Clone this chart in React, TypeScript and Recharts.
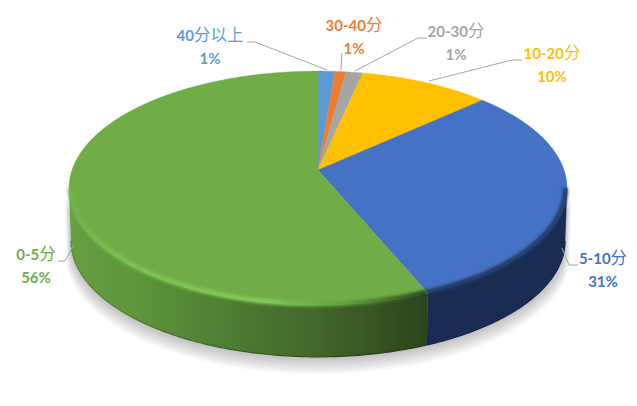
import { PieChart, Pie } from 'recharts'

const categories = ['40分以上', '30-40分', '20-30分', '10-20分', '5-10分', '0-5分']
const shares = [1.25, 0.85, 1.25, 9.85, 30.55, 56.25]
const percentLabels = ['1%', '1%', '1%', '10%', '31%', '56%']
const colors = ['#5b9bd5', '#ed7d31', '#a5a5a5', '#ffc000', '#4472c4', '#70ad47']

const chartData = categories.map((name, i) => ({ name, value: shares[i], fill: colors[i] }))

// label text centre + leader line, page pixels
const labelSpots = [
  { x: 210, y: 36, line: '247,42 255,42 327,70' },
  { x: 354, y: 26, line: '342,53 341,70' },
  { x: 456, y: 32, line: '427,38 418,38 355,71' },
  { x: 552, y: 54, line: '522,60 512,60 429,81' },
  { x: 603, y: 259, line: '578,265 569,265 562,248' },
  { x: 36, y: 255, line: '58,261 65,261 73,246' },
]

const CX = 318
const CY = 170
const RADIUS = 246
const SQUASH = 0.464
const TILT = 0.154
const DEPTH = 53
// angles where the rim turns away from the viewer
const WALL_FROM = 98.9
const WALL_TO = 261.1
// stacked faint copies of the wall, widest first, make the soft ground shadow
const SHADOW_LAYERS = [1, 2, 3, 4, 5, 6, 7, 8]

const project = (deg: number, r = RADIUS, dy = 0) => {
  const t = (deg * Math.PI) / 180
  const d = 1 + TILT * Math.cos(t)
  return [CX + (r * Math.sin(t)) / d, CY + dy - (r * SQUASH * Math.cos(t)) / d]
}

const arc = (from: number, to: number, r = RADIUS, dy = 0) => {
  const pts: string[] = []
  const steps = Math.max(2, Math.ceil(Math.abs(to - from) * 2))
  for (let i = 0; i <= steps; i++) {
    const p = project(from + ((to - from) * i) / steps, r, dy)
    pts.push(`${p[0].toFixed(2)} ${p[1].toFixed(2)}`)
  }
  return pts
}

const wallPath = (from: number, to: number, dy: number, r = RADIUS) => {
  const upper = arc(from, to, r)
  const lower = arc(to, from, r * 0.992, dy)
  return `M${upper.join('L')}L${lower.join('L')}Z`
}

const sweep = (props: any) => {
  const from = 90 - props.startAngle
  const to = 90 - props.endAngle
  return { from, to, wallFrom: Math.max(from, WALL_FROM), wallTo: Math.min(to, WALL_TO) }
}

const WallSlice = (props: any) => {
  const { wallFrom, wallTo } = sweep(props)
  if (wallTo <= wallFrom) return null
  const isGreen = props.index === 5
  return (
    <g>
      {/* blue is painted first, so the shadow of the whole wall goes with it */}
      {!isGreen &&
        SHADOW_LAYERS.map(n => (
          <path
            key={n}
            d={wallPath(WALL_FROM + 4, WALL_TO - 4, DEPTH + n * 1.8, RADIUS * (1 + n * 0.0025))}
            fill="#000"
            fillOpacity={0.03}
          />
        ))}
      <path d={wallPath(wallFrom, wallTo, DEPTH)} fill={isGreen ? 'url(#greenWall)' : '#1a2c52'} stroke={isGreen ? 'none' : '#1a2c52'} strokeWidth={0.5} />
      <path d={`M${arc(wallFrom, wallTo, RADIUS * 0.992, DEPTH).join('L')}`} fill="none" stroke={isGreen ? 'url(#greenFoot)' : '#16264a'} strokeWidth={1.2} />
    </g>
  )
}

const TopSlice = (props: any) => {
  const { from, to, wallFrom, wallTo } = sweep(props)
  const face = `M${CX} ${CY}L${arc(from, to).join('L')}Z`
  const isGreen = props.index === 5
  return (
    <g>
      <path d={face} fill={props.fill} stroke={props.fill} strokeWidth={0.4} />
      {wallTo > wallFrom && (
        <path
          d={`M${arc(wallFrom, wallTo, RADIUS * 0.994, 0).join('L')}`}
          fill="none"
          stroke={isGreen ? 'url(#greenRim)' : 'url(#blueRim)'}
          strokeWidth={5}
          filter="url(#rimBlur)"
        />
      )}
    </g>
  )
}

// CJK glyphs fall back to a lighter, slightly larger face in the original
const textRuns = (text: string) =>
  (text.match(/[\u4e00-\u9fff]+|[^\u4e00-\u9fff]+/g) || []).map((run, i) =>
    /[\u4e00-\u9fff]/.test(run) ? (
      <tspan key={i} fontFamily='"Noto Sans CJK SC", sans-serif' fontSize={16.5} fontWeight={400}>{run}</tspan>
    ) : (
      <tspan key={i}>{run}</tspan>
    )
  )

const SliceLabel = ({ index }: any) => {
  const spot = labelSpots[index]
  const font = { fontFamily: 'Lato, "Noto Sans CJK SC", sans-serif', fontSize: 15, fontWeight: 700 }
  return (
    <g>
      <polyline points={spot.line} fill="none" stroke="#a6a6a6" strokeWidth={1} />
      <text x={spot.x} y={spot.y} dy={5} textAnchor="middle" fill={colors[index]} {...font}>{textRuns(categories[index])}</text>
      <text x={spot.x} y={spot.y + 23} dy={5} textAnchor="middle" fill={colors[index]} {...font}>{percentLabels[index]}</text>
    </g>
  )
}

export default function App() {
  const pieProps = {
    data: chartData,
    dataKey: 'value',
    nameKey: 'name',
    cx: CX,
    cy: CY,
    outerRadius: RADIUS,
    startAngle: 90,
    endAngle: -270,
    stroke: 'none',
    isAnimationActive: false,
  }
  return (
    <div style={{ position: 'absolute', left: 0, top: 0, width: 637, height: 406 }}>
      <PieChart width={637} height={406} margin={{ top: 0, right: 0, bottom: 0, left: 0 }}>
        <defs>
          <filter id="rimBlur" filterUnits="userSpaceOnUse" x="0" y="100" width="637" height="306">
            <feGaussianBlur stdDeviation="1.6" />
          </filter>
          <linearGradient id="greenWall" x1="0" y1="0" x2="1" y2="0">
            <stop offset="0" stopColor="#669f43" />
            <stop offset="0.2" stopColor="#5d943c" />
            <stop offset="0.42" stopColor="#4f7f33" />
            <stop offset="0.7" stopColor="#41652a" />
            <stop offset="1" stopColor="#2c431b" />
          </linearGradient>
          <linearGradient id="greenFoot" x1="0" y1="0" x2="1" y2="0">
            <stop offset="0" stopColor="#558a36" />
            <stop offset="0.5" stopColor="#385a22" />
            <stop offset="1" stopColor="#223614" />
          </linearGradient>
          <linearGradient id="greenRim" x1="0" y1="0" x2="1" y2="0">
            <stop offset="0" stopColor="#70b34a" />
            <stop offset="0.15" stopColor="#7bc452" />
            <stop offset="0.55" stopColor="#82cc58" />
            <stop offset="0.78" stopColor="#5f9a3d" />
            <stop offset="1" stopColor="#2a401a" />
          </linearGradient>
          <linearGradient id="blueRim" x1="0" y1="0" x2="1" y2="0">
            <stop offset="0" stopColor="#22375f" />
            <stop offset="1" stopColor="#243c69" />
          </linearGradient>
        </defs>
        <Pie {...pieProps} shape={WallSlice} label={false} labelLine={false} />
        <Pie {...pieProps} shape={TopSlice} label={SliceLabel} labelLine={false} />
      </PieChart>
    </div>
  )
}
